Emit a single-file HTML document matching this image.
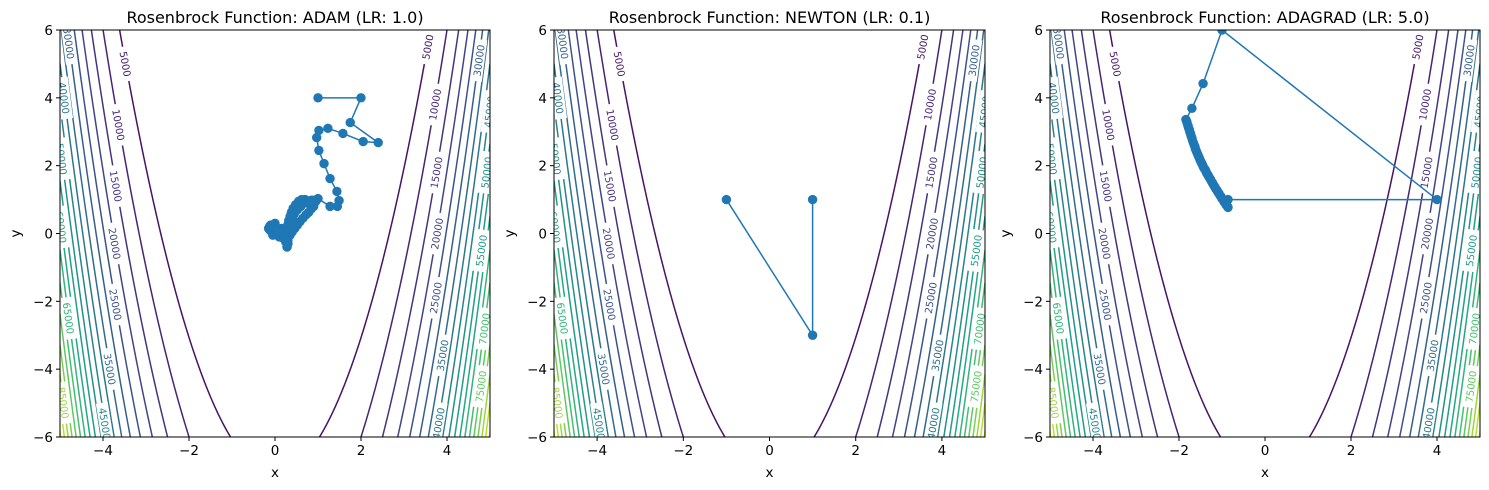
<!DOCTYPE html>
<html><head><meta charset="utf-8"><style>
body{margin:0;background:#fff;}
svg{display:block;font-family:"DejaVu Sans","Liberation Sans",sans-serif;}
</style></head><body>
<svg id="fig" width="1489" height="490" viewBox="0 0 1489 490" xmlns="http://www.w3.org/2000/svg"></svg>
<script>
const levels=[5000,10000,15000,20000,25000,30000,35000,40000,45000,50000,55000,60000,65000,70000,75000,80000,85000,90000,95000];
const leftLabels=[[5000,5.0],[10000,3.2],[15000,1.4],[20000,-0.3],[25000,-2.1],[35000,-4.0],[45000,-5.6],[30000,5.6],[40000,4.0],[50000,2.2],[60000,0.2],[65000,-2.5],[85000,-5.0]];
const rightLabels=[[5000,5.5],[10000,3.8],[15000,1.8],[20000,0.0],[25000,-1.9],[35000,-3.6],[40000,-5.6],[30000,5.1],[45000,3.6],[50000,1.8],[55000,-0.5],[70000,-2.8],[75000,-4.5]];
const xTicks=[-4,-2,0,2,4];
const yTicks=[-6,-4,-2,0,2,4,6];
const adamX=[1,2,1.75,2.4,2.05,1.58,1.23,1.02,0.97,1.02,1.14,1.28,1.44,1.49,1.45,1.28,1.0,0.85,0.7,0.62,0.55,0.48,0.42,0.38,0.35,0.32,0.3,0.28,0.22,0.1,-0.05,-0.12,-0.1,0.0,0.15,0.25,0.3,0.28,0.3,0.35,0.4,0.46,0.52,0.58,0.65,0.72,0.78,0.84,0.9,0.95,0.88,0.8,0.7,0.6,0.52,0.45,0.4,0.35,0.3,0.25,0.2,0.12,0.05,-0.05,-0.1,-0.15,-0.12,-0.05,0.05,0.1,0.2,0.25,0.3,0.28];
const adamY=[4,4,3.27,2.68,2.71,2.95,3.1,3.04,2.83,2.45,2.06,1.62,1.24,0.97,0.8,0.8,1.03,0.98,1.0,1.0,0.95,0.85,0.74,0.62,0.5,0.38,0.26,0.15,0.0,-0.1,-0.05,0.1,0.25,0.3,0.15,-0.1,-0.3,-0.38,-0.2,-0.05,0.05,0.15,0.25,0.35,0.45,0.55,0.62,0.72,0.8,0.95,0.98,0.96,0.9,0.8,0.7,0.58,0.45,0.33,0.2,0.1,0.05,0.0,-0.05,0.0,0.08,0.15,0.22,0.2,0.1,0.05,-0.15,-0.25,-0.3,-0.4];
const newtonX=[-1,1,1];
const newtonY=[1,-3,1];
const adagradX=[-0.86,4,-1,-1.44,-1.7,-1.84,-1.82,-1.81,-1.79,-1.78,-1.76,-1.75,-1.73,-1.72,-1.7,-1.69,-1.67,-1.65,-1.63,-1.62,-1.6,-1.58,-1.56,-1.54,-1.52,-1.5,-1.48,-1.46,-1.44,-1.42,-1.39,-1.37,-1.35,-1.32,-1.3,-1.27,-1.25,-1.22,-1.2,-1.17,-1.15,-1.12,-1.1,-1.07,-1.05,-1.02,-1.0,-0.97,-0.95,-0.92,-0.9,-0.88,-0.86];
const adagradY=[1,1,6,4.42,3.69,3.36,3.3,3.25,3.18,3.12,3.06,3.0,2.94,2.88,2.82,2.76,2.69,2.62,2.56,2.5,2.44,2.38,2.32,2.26,2.2,2.14,2.09,2.04,1.98,1.93,1.88,1.82,1.77,1.71,1.66,1.6,1.55,1.49,1.44,1.38,1.33,1.28,1.23,1.18,1.13,1.08,1.03,0.98,0.93,0.88,0.84,0.81,0.77];
const titles=["Rosenbrock Function: ADAM (LR: 1.0)","Rosenbrock Function: NEWTON (LR: 0.1)","Rosenbrock Function: ADAGRAD (LR: 5.0)"];
const panels=[{L:60,R:490,x:adamX,y:adamY,n:'adam'},{L:554,R:985,x:newtonX,y:newtonY,n:'newton'},{L:1050,R:1480,x:adagradX,y:adagradY,n:'adagrad'}];
const T=30,B=437;
const NS="http://www.w3.org/2000/svg";
const svg=document.getElementById('fig');
function mk(tag,attrs,parent){const e=document.createElementNS(NS,tag);for(const k in attrs)e.setAttribute(k,attrs[k]);(parent||svg).appendChild(e);return e;}
const vir=[[68,1,84],[72,36,117],[65,68,135],[53,95,141],[42,120,142],[33,145,140],[34,168,132],[68,191,112],[122,209,81],[189,223,38],[253,231,37]];
function color(t){t=Math.max(0,Math.min(1,t))*10;const i=Math.min(9,Math.floor(t)),f=t-i;const a=vir[i],b=vir[i+1];return 'rgb('+a.map((v,k)=>Math.round(v+(b[k]-v)*f)).join(',')+')';}
function branchY(c,x){return x*x-Math.sqrt((c-(1-x)*(1-x))/100);}
panels.forEach((p,pi)=>{
  const sx=x=>p.L+(x+5)/10*(p.R-p.L);
  const sy=y=>B-(y+6)/12*(B-T);
  const g=mk('g',{});
  
  
  const cp=mk('clipPath',{id:'clip'+pi},g);
  mk('rect',{x:p.L,y:T,width:p.R-p.L,height:B-T},cp);
  const cg=mk('g',{'clip-path':'url(#clip'+pi+')'},g);
  levels.forEach(c=>{
    let d='';
    for(let i=0;i<=800;i++){const x=-5+i*10/800;const y=branchY(c,x);d+=(i?'L':'M')+sx(x).toFixed(2)+','+sy(Math.max(-8,Math.min(8,y))).toFixed(2);}
    const pth=mk('path',{d:d,fill:'none',stroke:color(c/100000),'stroke-width':1.5},cg);
    
    
  });
  function label(c,yv,side){
    let best=null,bd=1e9;
    for(let i=0;i<=2000;i++){const x=(side<0?-5+i*5/2000:i*5/2000);const y=branchY(c,x);const dd=Math.abs(y-yv);if(dd<bd){bd=dd;best=x;}}
    if(bd>0.3)return;
    const px=sx(best),py=sy(branchY(c,best));
    const dx=sx(best+0.01)-sx(best),dy=sy(branchY(c,best+0.01))-py;
    let ang=Math.atan2(dy,dx)*180/Math.PI;if(ang>90)ang-=180;if(ang<-90)ang+=180;
    const lg=mk('g',{transform:'translate('+px.toFixed(1)+','+py.toFixed(1)+') rotate('+ang.toFixed(1)+')'},cg);
    const w=String(c).length*7.2+6;
    mk('rect',{x:-w/2,y:-6,width:w,height:12,fill:'#fff'},lg);
    const t=mk('text',{x:0,y:4,'text-anchor':'middle','font-size':'10',fill:color(c/100000)},lg);
    t.textContent=String(c);
    
    
  }
  leftLabels.forEach(l=>label(l[0],l[1],-1));
  rightLabels.forEach(l=>label(l[0],l[1],1));
  let d='';
  p.x.forEach((x,i)=>{d+=(i?'L':'M')+sx(x).toFixed(2)+','+sy(p.y[i]).toFixed(2);});
  const ln=mk('path',{d:d,fill:'none',stroke:'#1f77b4','stroke-width':1.5},cg);
  
  
  p.x.forEach((x,i)=>{
    const m=mk('circle',{cx:sx(x),cy:sy(p.y[i]),r:4.7,fill:'#1f77b4'},cg);
    
    
  });
  const fr=mk('rect',{x:p.L,y:T,width:p.R-p.L,height:B-T,fill:'none',stroke:'#000','stroke-width':1},g);
  
  
  xTicks.forEach(v=>{
    mk('line',{x1:sx(v),x2:sx(v),y1:B,y2:B+4,stroke:'#000'},g);
    const t=mk('text',{x:sx(v),y:B+18,'text-anchor':'middle','font-size':'13.5'},g);
    t.textContent=(v<0?'\u2212':'')+Math.abs(v);
    
    
  });
  yTicks.forEach(v=>{
    mk('line',{x1:p.L-4,x2:p.L,y1:sy(v),y2:sy(v),stroke:'#000'},g);
    const t=mk('text',{x:p.L-7,y:sy(v)+5,'text-anchor':'end','font-size':'13.5'},g);
    t.textContent=(v<0?'\u2212':'')+Math.abs(v);
    
    
  });
  const tt=mk('text',{x:(p.L+p.R)/2,y:23,'text-anchor':'middle','font-size':'16'},g);
  tt.textContent=titles[pi];
  
  
  const xl=mk('text',{x:(p.L+p.R)/2,y:477,'text-anchor':'middle','font-size':'13.5'},g);
  xl.textContent='x';
  
  
  const yl=mk('text',{x:0,y:0,'text-anchor':'middle','font-size':'13.5',transform:'translate('+(p.L-40)+','+((T+B)/2)+') rotate(-90)'},g);
  yl.textContent='y';
  
  
});
</script>
</body></html>
